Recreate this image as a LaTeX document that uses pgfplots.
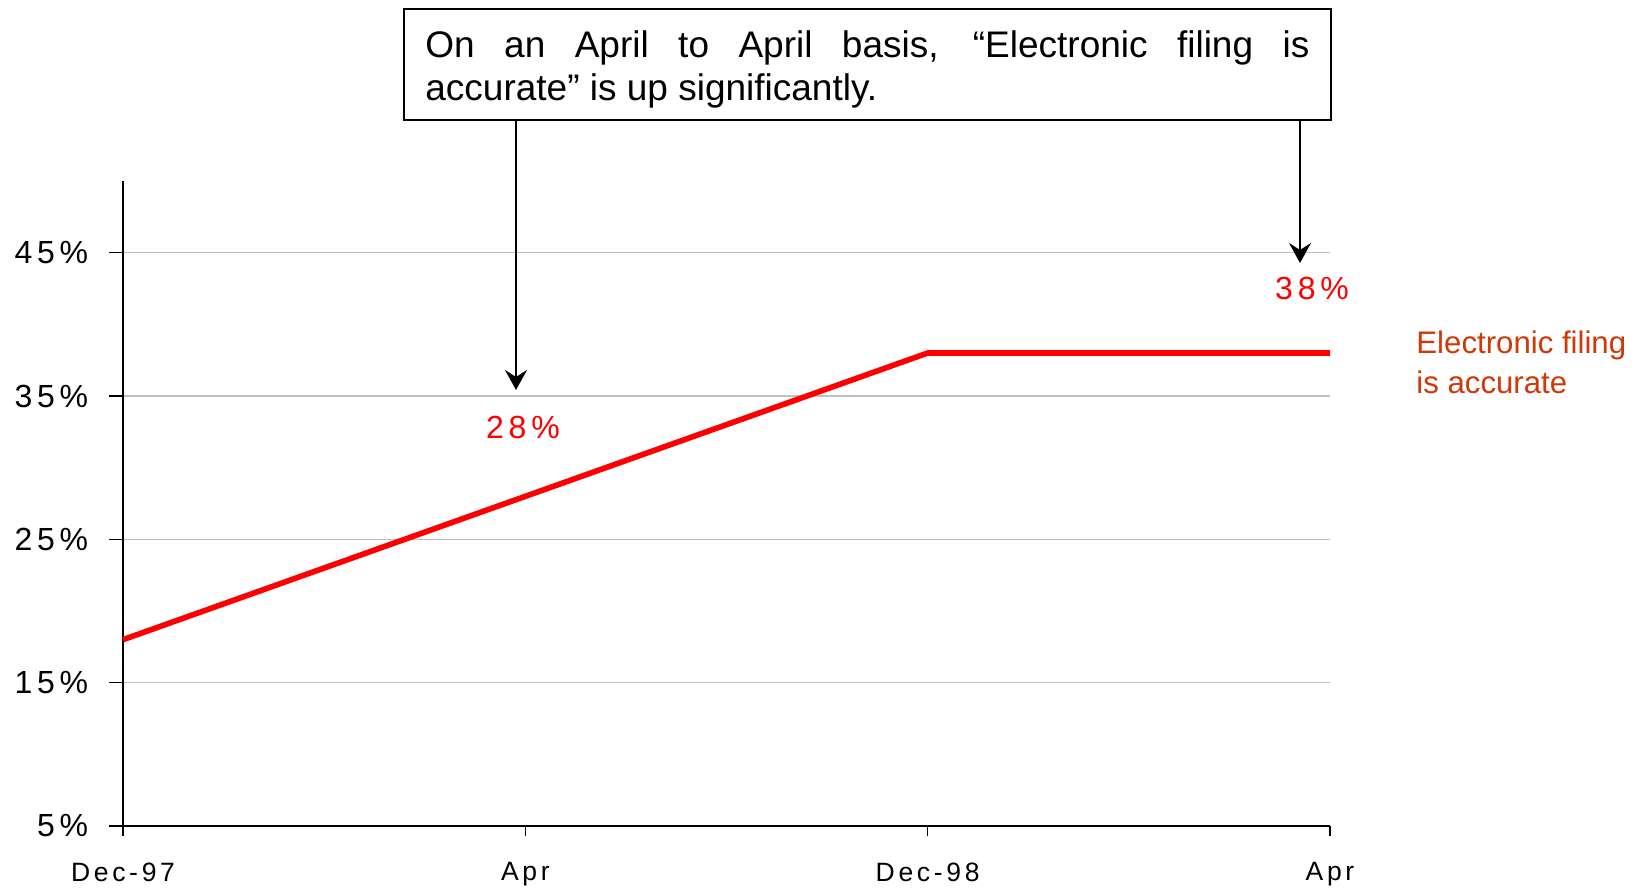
\documentclass[border=0pt]{standalone}
\usepackage{fontspec}
\setmainfont{Liberation Sans}
\newfontfamily\lsfont[LetterSpace=15]{Liberation Sans}
\newfontfamily\lxfont[LetterSpace=14]{Liberation Sans}
\usepackage{pgfplots}
\pgfplotsset{compat=1.18}
\usetikzlibrary{arrows.meta}
\definecolor{gridgray}{RGB}{192,192,192}
\definecolor{labelred}{RGB}{208,56,8}
\definecolor{linered}{RGB}{255,0,0}
\begin{document}
\begin{tikzpicture}
\useasboundingbox (0,0) rectangle (818.5pt,445pt);
\begin{axis}[
  at={(61.5pt,32pt)}, anchor=south west,
  scale only axis, width=603.5pt, height=322.5pt,
  xmin=0, xmax=3, ymin=5, ymax=50,
  axis x line=bottom, axis y line=left,
  axis line style={-, line width=0.8pt, black},
  xtick={0,1,2,3}, xticklabels={Dec-97,Apr,Dec-98,Apr},
  ytick={5,15,25,35,45}, yticklabels={5\%,15\%,25\%,35\%,45\%},
  tick align=outside,
  xtick style={black, line width=0.8pt, /pgfplots/major tick length=5pt},
  ytick style={black, line width=0.8pt, /pgfplots/major tick length=7pt},
  ymajorgrids, grid style={line width=0.6pt, gridgray},
  xticklabel style={font=\lxfont\fontsize{13.25}{15}\selectfont, yshift=-10.5pt},
  yticklabel style={font=\lsfont\fontsize{16}{19}\selectfont, xshift=-9.6pt},
  clip=false,
]
\addplot[linered, line width=2.8pt] coordinates {(0,18) (1,28) (2,38) (3,38)};
\end{axis}
\begin{scope}[x=0.5pt, y=-0.5pt, shift={(0,445pt)}]
\draw[line width=1pt] (404,9.5) rectangle (1331,120);
\node[anchor=north west, inner sep=0pt, text width=442pt, align=justify,
      font=\fontsize{18.5}{21.5}\selectfont] at (425,30)
  {On an April to April basis, “Electronic filing is\linebreak accurate” is up significantly.};
\draw[line width=1pt, -{Stealth[length=10pt,width=11pt,inset=3.5pt]}] (516,120) -- (516,390);
\draw[line width=1pt, -{Stealth[length=10pt,width=11pt,inset=3.5pt]}] (1300,120) -- (1300,263);
\node[text=linered, font=\lsfont\fontsize{16}{19}\selectfont, inner sep=0pt] at (523,427) {28\%};
\node[text=linered, font=\lsfont\fontsize{16}{19}\selectfont, inner sep=0pt] at (1312,288.5) {38\%};
\node[anchor=north west, inner sep=0pt, text=labelred, align=left,
      font=\fontsize{15.6}{20}\selectfont] at (1416,330) {Electronic filing\\is accurate};
\end{scope}
\end{tikzpicture}
\end{document}
